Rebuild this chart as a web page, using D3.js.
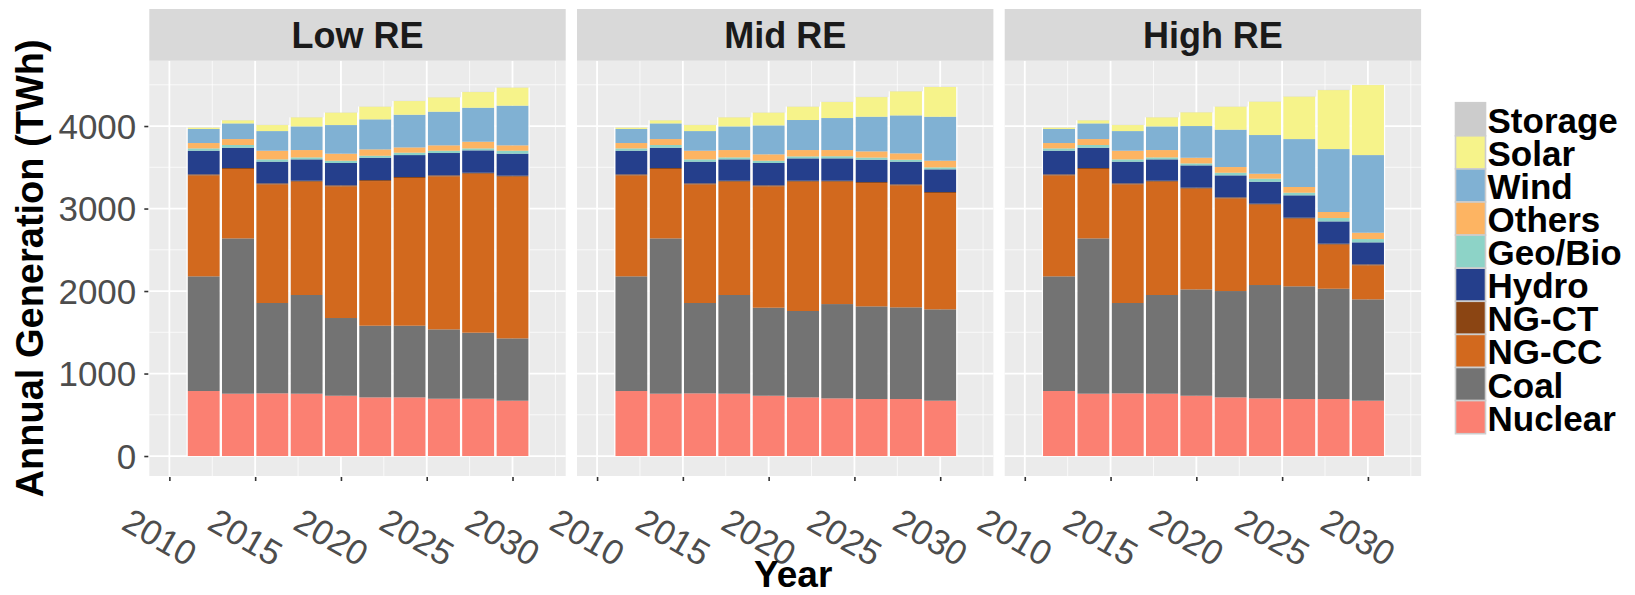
<!DOCTYPE html>
<html>
<head>
<meta charset="utf-8">
<script src="https://cdn.jsdelivr.net/npm/d3@7"></script>
<style>
  body { margin: 0; background: #ffffff; }
  text { font-family: "Liberation Sans", Arial, sans-serif; }
</style>
</head>
<body>
<svg id="chart" width="1635" height="595"></svg>
<script>
// ---- data -------------------------------------------------------------
const years = [2012, 2014, 2016, 2018, 2020, 2022, 2024, 2026, 2028, 2030];
const xTicks = [2010, 2015, 2020, 2025, 2030];
const yTicks = [0, 1000, 2000, 3000, 4000];
const scenarios = ["Low RE", "Mid RE", "High RE"];

// stacking order, bottom to top
const fuels = ["Nuclear", "Coal", "NG-CC", "NG-CT", "Hydro", "Geo/Bio", "Others", "Wind", "Solar", "Storage"];
const fuelColors = ["#FB8072", "#737373", "#D2691E", "#8B4513", "#253F8C", "#8DD3C7", "#FDB462", "#80B1D3", "#F6F38A", "#CCCCCC"];

// Low RE scenario (TWh)
const lowNuclear = [788, 756, 760, 756, 731, 711, 711, 695, 695, 671];
const lowCoal    = [1390, 1882, 1095, 1196, 942, 869, 869, 840, 800, 755];
const lowNGCC    = [1224, 841, 1438, 1373, 1596, 1753, 1790, 1855, 1927, 1960];
const lowNGCT    = [12, 12, 12, 12, 12, 12, 12, 12, 12, 12];
const lowHydro   = [287, 246, 263, 259, 271, 271, 266, 271, 271, 267];
const lowGeoBio  = [28, 33, 28, 24, 28, 24, 29, 28, 24, 36];
const lowOthers  = [65, 72, 105, 89, 85, 77, 64, 65, 81, 65];
const lowWind    = [170, 190, 238, 287, 347, 364, 396, 408, 412, 481];
const lowSolar   = [16, 37, 73, 109, 150, 153, 166, 173, 190, 218];
const lowStorage = [2, 2, 2, 2, 2, 2, 2, 2, 2, 2];

// Mid RE scenario (TWh)
const midNuclear = [788, 756, 760, 756, 731, 711, 699, 691, 691, 671];
const midCoal    = [1390, 1882, 1095, 1196, 1067, 1047, 1143, 1123, 1111, 1107];
const midNGCC    = [1224, 841, 1438, 1373, 1471, 1567, 1483, 1495, 1479, 1410];
const midNGCT    = [12, 12, 12, 12, 12, 12, 12, 12, 12, 12];
const midHydro   = [287, 246, 263, 259, 271, 271, 271, 271, 275, 275];
const midGeoBio  = [28, 33, 28, 24, 28, 24, 26, 26, 24, 24];
const midOthers  = [65, 72, 105, 89, 77, 77, 75, 75, 77, 81];
const midWind    = [170, 190, 238, 287, 351, 364, 388, 420, 460, 533];
const midSolar   = [16, 37, 73, 109, 154, 161, 194, 238, 291, 360];
const midStorage = [2, 2, 2, 2, 2, 2, 2, 2, 2, 2];

// High RE scenario (TWh)
const highNuclear = [788, 756, 760, 756, 731, 711, 699, 691, 691, 671];
const highCoal    = [1390, 1882, 1095, 1196, 1289, 1289, 1374, 1366, 1337, 1228];
const highNGCC    = [1224, 841, 1438, 1373, 1221, 1123, 974, 820, 534, 412];
const highNGCT    = [12, 12, 12, 12, 12, 12, 12, 12, 12, 12];
const highHydro   = [287, 246, 263, 259, 270, 267, 266, 271, 270, 267];
const highGeoBio  = [28, 33, 28, 24, 24, 32, 37, 32, 41, 40];
const highOthers  = [65, 72, 105, 89, 69, 69, 60, 69, 73, 77];
const highWind    = [170, 190, 238, 287, 384, 453, 469, 581, 763, 941];
const highSolar   = [16, 37, 73, 109, 166, 278, 404, 514, 715, 849];
const highStorage = [2, 2, 2, 2, 2, 2, 2, 2, 2, 2];

const scenarioSeries = [
  [lowNuclear, lowCoal, lowNGCC, lowNGCT, lowHydro, lowGeoBio, lowOthers, lowWind, lowSolar, lowStorage],
  [midNuclear, midCoal, midNGCC, midNGCT, midHydro, midGeoBio, midOthers, midWind, midSolar, midStorage],
  [highNuclear, highCoal, highNGCC, highNGCT, highHydro, highGeoBio, highOthers, highWind, highSolar, highStorage]
];

// ---- layout -----------------------------------------------------------
const panelLefts = [149.3, 577.0, 1004.7];
const panelW = 416.4;
const stripTop = 9, panelTop = 60.7, panelBottom = 476;
const panelH = panelBottom - panelTop;
const FONT = '"Liberation Sans", Arial, sans-serif';

const svg = d3.select("#chart");

const x = d3.scaleLinear().domain([2008.83, 2033.1]).range([0, panelW]);
const y = d3.scaleLinear().domain([-242, 4792]).range([panelH, 0]);
const color = d3.scaleOrdinal().domain(fuels).range(fuelColors);
const barYears = 1.883;

const stack = d3.stack().keys(fuels);

scenarios.forEach((name, si) => {
  const rows = years.map((yr, i) => {
    const r = { year: yr };
    fuels.forEach((f, fi) => { r[f] = scenarioSeries[si][fi][i]; });
    return r;
  });
  const layers = stack(rows);

  const g = svg.append("g").attr("transform", `translate(${panelLefts[si]},${panelTop})`);

  // strip
  svg.append("rect")
    .attr("x", panelLefts[si]).attr("y", stripTop)
    .attr("width", panelW).attr("height", panelTop - stripTop)
    .attr("fill", "#D9D9D9");
  svg.append("text")
    .attr("x", panelLefts[si] + panelW / 2).attr("y", (stripTop + panelTop) / 2 + 1)
    .attr("text-anchor", "middle").attr("dominant-baseline", "central")
    .attr("font-size", 36).attr("font-weight", "bold").attr("fill", "#1A1A1A")
    .text(name);

  // panel background
  g.append("rect").attr("width", panelW).attr("height", panelH).attr("fill", "#EBEBEB");

  // minor grid
  const xMinor = [2012.5, 2017.5, 2022.5, 2027.5, 2032.5];
  const yMinor = [500, 1500, 2500, 3500, 4500];
  g.selectAll(".xminor").data(xMinor).enter().append("line")
    .attr("x1", d => x(d)).attr("x2", d => x(d)).attr("y1", 0).attr("y2", panelH)
    .attr("stroke", "#FFFFFF").attr("stroke-width", 0.9).attr("stroke-opacity", 0.8);
  g.selectAll(".yminor").data(yMinor).enter().append("line")
    .attr("x1", 0).attr("x2", panelW).attr("y1", d => y(d)).attr("y2", d => y(d))
    .attr("stroke", "#FFFFFF").attr("stroke-width", 0.9).attr("stroke-opacity", 0.8);
  // major grid
  g.selectAll(".xmajor").data(xTicks).enter().append("line")
    .attr("x1", d => x(d)).attr("x2", d => x(d)).attr("y1", 0).attr("y2", panelH)
    .attr("stroke", "#FFFFFF").attr("stroke-width", 1.8);
  g.selectAll(".ymajor").data(yTicks).enter().append("line")
    .attr("x1", 0).attr("x2", panelW).attr("y1", d => y(d)).attr("y2", d => y(d))
    .attr("stroke", "#FFFFFF").attr("stroke-width", 1.8);

  // stacked bars
  const bw = x(2000 + barYears) - x(2000);
  g.selectAll(".layer").data(layers).enter().append("g")
    .attr("fill", d => color(d.key))
    .selectAll("rect").data(d => d).enter().append("rect")
    .attr("x", d => x(d.data.year) - bw / 2)
    .attr("width", bw)
    .attr("y", d => y(d[1]))
    .attr("height", d => Math.max(0, y(d[0]) - y(d[1])));

  // thin white separators along bar sides
  const tops = rows.map(r => ({ year: r.year, total: d3.sum(fuels, f => r[f]) }));
  g.selectAll(".side").data(tops).enter().append("path")
    .attr("d", d => {
      const l = x(d.year) - bw / 2 - 0.5, r = x(d.year) + bw / 2 + 0.5;
      return `M${l},${y(0)}V${y(d.total)}M${r},${y(0)}V${y(d.total)}`;
    })
    .attr("stroke", "#FFFFFF").attr("stroke-width", 1.2).attr("fill", "none");

  // x axis
  const xAxis = g.append("g").attr("transform", `translate(0,${panelH})`)
    .call(d3.axisBottom(x).tickValues(xTicks).tickSize(5).tickFormat(d3.format("d")));
  xAxis.select(".domain").remove();
  xAxis.selectAll(".tick line").attr("stroke", "#333333").attr("stroke-width", 1.6).attr("y1", 1);
  xAxis.selectAll(".tick text").remove();
  xAxis.selectAll(".tick").append("text")
    .attr("transform", "translate(-10,61) rotate(30)")
    .attr("text-anchor", "middle").attr("dominant-baseline", "central")
    .attr("font-size", 35).attr("fill", "#4D4D4D")
    .style("font-family", FONT)
    .text(d => d);

  // y axis on the first panel only
  if (si === 0) {
    const yAxis = g.append("g")
      .call(d3.axisLeft(y).tickValues(yTicks).tickSize(5).tickPadding(8).tickFormat(d3.format("d")));
    yAxis.select(".domain").remove();
    yAxis.selectAll(".tick line").attr("stroke", "#333333").attr("stroke-width", 1.6).attr("x1", -1);
    yAxis.selectAll(".tick text")
      .attr("font-size", 35).attr("fill", "#4D4D4D").attr("dy", "0.35em")
      .style("font-family", FONT);
  }
});

// axis titles
svg.append("text")
  .attr("transform", `translate(43,${(panelTop + panelBottom) / 2}) rotate(-90)`)
  .attr("text-anchor", "middle")
  .attr("font-size", 38).attr("font-weight", "bold").attr("fill", "#000000")
  .text("Annual Generation (TWh)");

svg.append("text")
  .attr("x", (panelLefts[0] + panelLefts[2] + panelW) / 2 + 8).attr("y", 587)
  .attr("text-anchor", "middle")
  .attr("font-size", 37).attr("font-weight", "bold").attr("fill", "#000000")
  .text("Year");

// legend, top entry is the last stacked layer
const legendFuels = fuels.slice().reverse();
const keyH = 33.1, keyW = 30, legendX = 1455.5, legendY = 102.7;
const legend = svg.append("g");
legend.selectAll("rect").data(legendFuels).enter().append("rect")
  .attr("x", legendX).attr("y", (d, i) => legendY + i * keyH)
  .attr("width", keyW).attr("height", keyH)
  .attr("fill", d => color(d))
  .attr("stroke", "#CDCDCD").attr("stroke-width", 1.6);
legend.selectAll("text").data(legendFuels).enter().append("text")
  .attr("x", legendX + keyW + 2).attr("y", (d, i) => legendY + i * keyH + keyH / 2 + 1)
  .attr("dominant-baseline", "central")
  .attr("font-size", 35).attr("font-weight", "bold").attr("fill", "#000000")
  .text(d => d);
</script>
</body>
</html>
